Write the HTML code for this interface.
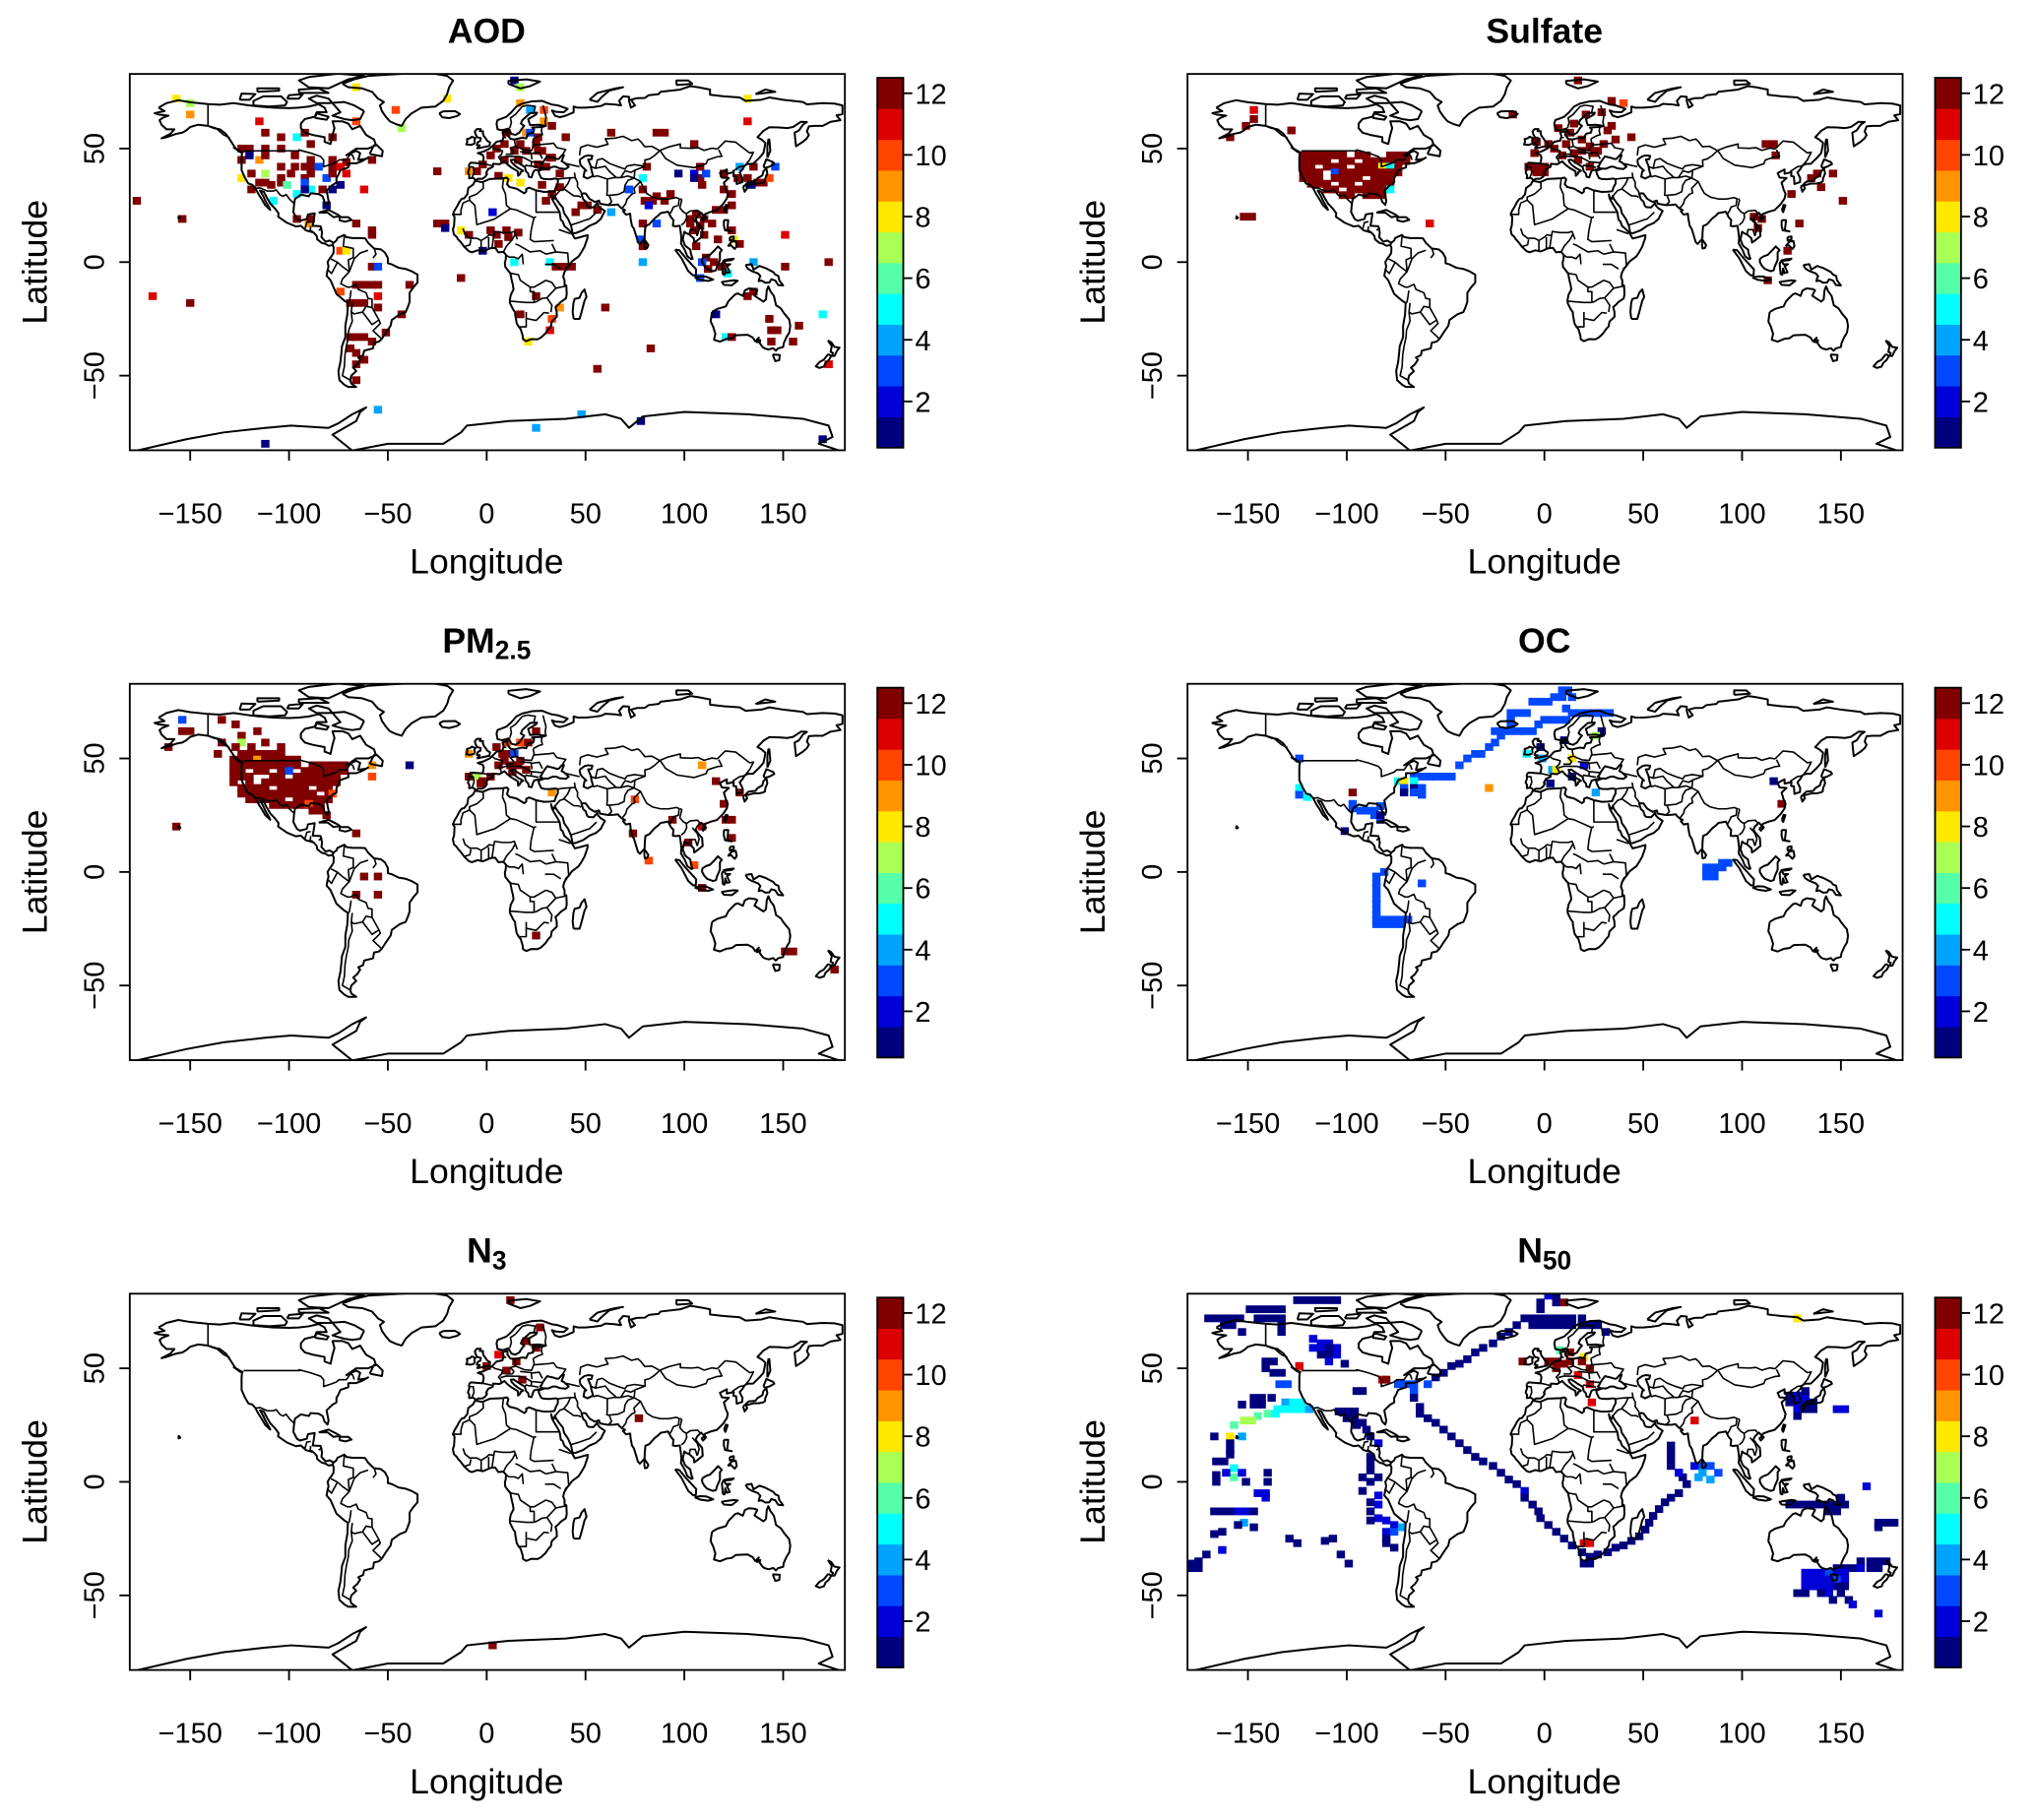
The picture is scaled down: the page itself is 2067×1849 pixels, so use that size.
<!DOCTYPE html>
<html><head><meta charset="utf-8"><title>Maps</title>
<style>
html,body{margin:0;padding:0;background:#fff;}
svg{display:block;}
text{font-family:"Liberation Sans",Arial,sans-serif;fill:#000;}
</style></head>
<body>
<svg id="fig" width="2067" height="1849" viewBox="0 0 1568 1402.6" preserveAspectRatio="none" xmlns="http://www.w3.org/2000/svg">
<defs><g id="world"></g></defs>
</svg>
<script>
// ---------- DATA ----------
const palette = ['#00007F','#0000D8','#0048FF','#00A4FF','#00FFFF','#55FFAA','#AAFF55','#FFE800','#FF9400','#FF4400','#DD0000','#800000'];
const colorTicks = [2,4,6,8,10,12];
const lonTicks = [-150,-100,-50,0,50,100,150];
const latTicks = [-50,0,50];

const aodCells = [[-157,72,8],[-150,70,7],[-150,65,9],[-115,62,11],[-112,57,12],[-104,55,12],[-96,55,5],[-92,57,12],[-89,52,12],[-78,55,12],[-66,62,10],[-66,77,8],[-46,67,10],[-43,59,7],[-20,72,8],
[-124,50,12],[-120,50,12],[-112,50,12],[-104,50,12],[-97,47,12],[-89,45,12],[-78,45,12],[-71,44,12],[-58,45,12],[-124,45,12],[-120,47,1],[-115,45,9],[-112,47,12],[-124,37,8],[-119,39,12],[-112,39,7],
[-104,42,12],[-97,42,12],[-92,42,12],[-89,42,12],[-85,42,3],[-78,42,12],[-74,42,11],
[-104,37,12],[-99,39,12],[-92,37,12],[-89,39,12],[-81,37,3],[-78,39,12],[-71,39,11],
[-115,35,12],[-112,35,12],[-109,34,12],[-104,35,12],[-101,34,6],[-92,35,3],[-89,32,5],[-96,30,5],[-92,32,1],[-83,32,12],[-78,32,1],[-74,34,1],[-108,27,5],[-119,32,12],[-81,25,1],[-62,32,11],[-177,27,12],[-154,19,12],
[-96,19,12],[-90,17,9],[-89,19,12],[-66,17,12],[-58,14,12],[-58,12,12],[-74,5,10],[-71,5,8],[-58,-2,12],[-55,-2,3],
[-66,-10,12],[-62,-10,12],[-58,-10,12],[-55,-10,12],[-39,-10,12],[-74,-13,10],[-55,-15,11],[-69,-18,12],[-66,-18,12],[-62,-18,12],[-55,-20,12],[-43,-23,12],[-51,-31,12],[-69,-33,12],[-66,-33,12],[-62,-33,12],[-58,-35,12],[-69,-38,12],[-66,-40,12],[-62,-43,12],[-66,-45,12],[-66,-52,12],[-169,-15,11],[-150,-18,12],
[-25,17,12],[-21,17,12],[-21,15,1],[-25,40,12],[-13,14,8],[-9,12,12],[2,14,12],[5,12,12],[10,14,12],[6,8,12],[11,11,12],[16,13,12],[-2,5,1],[3,22,2],[14,0,5],[32,0,5],[35,-2,12],[39,-2,12],[43,-2,12],[-13,-7,12],[25,-15,12],[17,-23,12],[37,-20,9],[33,-25,10],[32,-30,11],[21,-35,8],[60,-20,12],[56,-47,12],[83,-38,12],
[-5,40,12],[-9,40,9],[-2,43,12],[2,47,12],[5,50,12],[9,52,12],[10,57,12],[14,49,12],[17,52,12],[20,49,12],[25,52,12],[26,49,12],[28,49,12],[32,46,12],[33,46,12],[40,55,12],[9,45,12],[16,45,12],[26,43,12],[30,42,12],[37,39,12],[6,38,12],[11,37,8],[17,35,8],[28,34,12],[33,30,12],[30,27,12],[37,33,12],[48,25,12],[51,25,12],[56,23,12],[45,22,12],[63,57,12],[86,57,12],[90,57,12],[105,52,12],[132,62,11],[17,70,9],[29,67,10],[22,67,4],[29,62,9],[14,80,1],[17,77,7],[33,60,12],[20,57,9],[22,57,3],[26,55,12],[132,72,8],
[72,32,3],[79,37,5],[81,42,12],[79,32,12],[80,27,12],[84,27,12],[86,29,12],[82,25,2],[93,30,12],[90,27,12],[97,39,1],[105,39,2],[108,37,12],[111,39,3],[105,37,1],[109,34,12],[120,39,12],[108,42,12],[128,42,4],[135,42,12],[146,42,3],[127,37,12],[132,37,12],[137,35,12],[140,35,12],[134,34,1],[143,37,10],[120,32,12],[124,30,12],[116,23,12],[120,23,12],[124,25,12],[103,19,12],[106,21,12],[110,19,12],[103,17,12],[108,16,12],[114,17,12],[105,14,12],[110,12,12],[117,10,12],[124,14,12],[125,10,8],[128,8,12],[106,7,12],[111,2,12],[115,0,12],[109,0,3],[112,-3,12],[119,-2,12],[108,-7,3],[122,-5,5],[135,0,4],[151,12,11],[151,-2,12],[173,0,12],[79,17,12],[86,17,3],[78,10,3],[79,7,12],[79,0,4],[63,22,4],
[132,-15,12],[135,-13,12],[116,-23,1],[143,-25,12],[144,-30,12],[147,-30,12],[158,-28,12],[121,-33,5],[124,-33,12],[144,-35,12],[155,-35,12],[170,-23,5],[173,-45,11],
[-55,-65,4],[48,-67,4],[25,-73,4],[78,-70,1],[-112,-80,1],[170,-78,1]];

const sulfateCells = [
[-122,47,12],[-118,47,12],[-114,47,12],[-110,47,12],[-106,47,12],[-102,47,12],[-94,47,12],[-90,47,12],[-78,47,12],[-74,47,12],[-70,47,12],
[-122,44.5,12],[-118,44.5,12],[-114,44.5,12],[-110,44.5,12],[-102,44.5,12],[-98,44.5,12],[-90,44.5,12],[-86,44.5,12],[-82,44.5,12],[-78,44.5,12],[-74,44.5,12],[-70,44.5,12],
[-122,42,12],[-118,42,12],[-110,42,12],[-106,42,12],[-102,42,12],[-94,42,12],[-90,42,12],[-86,42,12],[-74,42,12],[-82,42,8],[-78,42,5],
[-122,39.5,12],[-118,39.5,12],[-114,39.5,12],[-106,39.5,3],[-102,39.5,12],[-98,39.5,12],[-94,39.5,12],[-90,39.5,12],[-86,39.5,12],[-82,39.5,12],[-78,39.5,12],[-74,39.5,12],
[-122,37,12],[-118,37,12],[-114,37,12],[-106,37,12],[-102,37,12],[-98,37,12],[-94,37,12],[-86,37,12],[-82,37,12],[-78,37,12],
[-118,34.5,12],[-114,34.5,12],[-110,34.5,12],[-102,34.5,12],[-98,34.5,12],[-90,34.5,12],[-86,34.5,12],[-82,34.5,12],[-78,34.5,12],
[-110,32,12],[-106,32,12],[-98,32,12],[-94,32,12],[-90,32,12],[-86,32,12],[-82,32,12],[-78,32,5],
[-102,29.5,12],[-98,29.5,12],[-90,29.5,12],[-86,29.5,12],[-82,29.5,12],
[-147,67,11],[-147,63,12],[-151,60,12],[-159,55,12],[-128,58,12],[-152,20,12],[-148,20,12],[-58,17,11],[-16,65,12],[17,80,12],[-4,53,12],[-8,42,12],[-4,42,12],[0,42,12],[-4,39.5,12],[0,39.5,12],
[15,61,12],[13,57,12],[19,54,12],[23,51,12],[27,49,12],[32,58,12],[34,60,12],[36,54,12],[30,52,12],[25,48,12],[17,45,12],[44,55,12],[11,52,12],[15,48,12],[23,42,12],[40,70,10],[34,71,12],[29,66,12],[21,65,12],[7,59,12],[2,52,12],[-5,48,12],[5,50,12],[9,47,12],[19,49,12],
[112,52,12],[116,52,12],[117,47,12],[125,30,12],[135,37,12],[140,33,12],[146,39,12],[138,39,12],[151,27,12],[106,20,12],[110,19,12],[108,15,12],[113,-8,12],[129,17,12],[123,5,12]];

const pm25Cells = [
[-154,67,3],[-154,62,12],[-150,62,12],[-161,55,12],[-134,67,12],[-127,65,12],[-116,62,12],[-124,60,12],[-124,57,7],[-112,57,12],[-134,57,12],[-127,55,12],[-119,55,12],[-104,55,12],[-136,52,12],
[-124,52,12],[-120,52,12],[-116,52,12],[-112,52,12],[-108,52,12],[-104,52,12],
[-128,49.5,12],[-124,49.5,12],[-120,49.5,12],[-116,49.5,9],[-112,49.5,12],[-108,49.5,12],[-104,49.5,12],[-100,49.5,12],[-96,49.5,12],
[-128,47,12],[-124,47,12],[-120,47,12],[-116,47,12],[-112,47,12],[-108,47,12],[-104,47,12],[-100,47,12],[-96,47,12],[-88,47,12],[-84,47,12],[-80,47,12],[-76,47,12],[-72,47,12],[-58,47,9],
[-128,44.5,12],[-124,44.5,12],[-116,44.5,12],[-112,44.5,12],[-104,44.5,12],[-100,44.5,3],[-92,44.5,12],[-88,44.5,12],[-84,44.5,12],[-80,44.5,12],[-76,44.5,12],[-72,44.5,12],
[-128,42,12],[-124,42,12],[-120,42,12],[-108,42,12],[-104,42,12],[-96,42,12],[-92,42,12],[-88,42,12],[-84,42,12],[-80,42,12],[-76,42,12],[-58,42,10],
[-128,39.5,12],[-120,39.5,12],[-112,39.5,12],[-108,39.5,12],[-104,39.5,12],[-100,39.5,12],[-96,39.5,12],[-92,39.5,12],[-88,39.5,12],[-84,39.5,12],[-80,39.5,12],[-76,39.5,12],
[-124,37,12],[-120,37,12],[-116,37,12],[-112,37,12],[-104,37,12],[-100,37,12],[-96,37,12],[-92,37,12],[-84,37,12],[-80,37,12],
[-124,34.5,12],[-120,34.5,12],[-116,34.5,12],[-112,34.5,12],[-108,34.5,12],[-104,34.5,12],[-100,34.5,12],[-96,34.5,12],[-92,34.5,12],[-88,34.5,12],[-80,34.5,12],[-78,34.5,10],
[-120,32,12],[-116,32,12],[-112,32,12],[-108,32,12],[-104,32,12],[-96,32,12],[-92,32,12],[-88,32,12],[-84,32,12],[-80,32,12],
[-108,29.5,12],[-104,29.5,12],[-100,29.5,12],[-96,29.5,12],[-92,29.5,12],[-88,29.5,12],[-84,29.5,12],[-90,30,10],
[-88,27,12],[-84,27,12],[-81,25,12],[-39,47,1],[-157,20,12],[-66,17,12],
[-62,-2,12],[-55,-2,12],[-66,-10,12],[-55,-10,12],
[-9,52,9],[-9,42,12],[-5,42,7],[-2,40,12],[2,42,12],[-3,39,12],[10,57,10],[17,57,10],[21,57,12],[25,62,12],[5,55,12],[8,52,12],[12,52,12],[14,52,3],[9,49,12],[12,47,12],[16,47,12],[6,47,12],[13,44,12],[17,49,12],[20,45,12],
[33,35,9],[75,32,10],[74,17,12],[82,5,10],[109,47,9],[116,40,12],[128,35,12],[120,30,12],[121,23,12],[124,23,12],[109,20,11],[94,23,12],[102,13,12],[124,15,12],[105,3,10],[109,-7,12],[25,-28,12],[151,-35,12],[155,-35,12],[176,-43,12]];

const ocCells = [
[-66,42,3],[-62,42,3],[-58,42,3],[-55,42,3],[-51,42,3],[-47,42,3],[-43,47,3],[-39,50,3],[-35,52,3],[-32,52,3],[-28,55,3],[-25,57,3],[-22,60,3],
[-25,62,3],[-21,62,3],[-17,62,3],[-13,62,3],[-10,62,3],[-6,62,3],[-17,65,3],[-17,67,3],[-17,70,3],[-13,70,3],[-9,70,3],
[-6,75,3],[-2,75,3],[2,75,3],[5,77,3],[9,77,3],[12,80,3],[9,80,3],[14,77,3],
[11,72,3],[14,70,3],[18,70,3],[21,70,3],[25,70,3],[29,70,3],[33,70,3],[4,67,3],[0,67,3],[-3,65,3],[8,67,3],[11,67,3],[29,62,1],[26,60,7],
[-74,40,5],[-71,40,8],[-66,40,5],[-71,37,3],[-66,37,1],[-62,37,3],[-66,35,3],[-62,34,3],[-71,35,1],
[-97,30,3],[-97,28,3],[-93,27,3],[-90,27,3],[-86,27,3],[-86,25,3],[-83,23,3],[-83,25,1],[-83,29,3],[-101,18,1],
[-124,50,3],[-124,37,5],[-124,34,3],[-120,33,5],[-97,35,12],
[-81,0,3],[-85,-2,3],[-85,-5,3],[-85,-7,3],[-85,-10,3],[-85,-12,3],[-85,-14,3],[-85,-17,3],[-85,-19,3],[-85,-21,3],[-81,-21,3],[-77,-21,3],[-73,-21,3],[-69,-21,3],[-85,-23,3],[-81,-23,3],[-77,-23,3],[-73,-23,3],[-62,-5,3],
[-9,52,5],[-2,55,1],[-1,50,4],[4,45,4],[6,45,8],[14,50,8],[14,42,1],[3,39,1],[26,35,4],[-28,37,9],[20,47,2],[10,58,1],
[116,40,1],[120,30,12],
[82,2,3],[86,2,3],[82,0,3],[86,0,3],[90,4,3],[93,4,3],[82,-2,3],[86,-2,3],[90,2,3]];

const n3Cells = [[12,80,12],[20,62,12],[25,59,12],[15,53,12],[10,49,12],[6,56,11],[27,68,12],[77,28,12],[3,-72,12],[0,51,12],[18,45,12]];

const n50Cells = [
[-125,80,1],[-121,80,1],[-117,80,1],[-113,80,1],[-109,80,1],[-105,80,1],
[-149,76,1],[-145,76,1],[-141,76,1],[-137,76,1],[-133,76,1],
[-170,72,1],[-166,72,1],[-162,72,1],[-158,72,1],[-154,72,1],[-145,72,1],[-141,72,1],[-137,72,1],[-133,72,1],
[-162,69,1],[-158,69,1],[-133,69,1],[-153,66,1],[-133,66,1],
[-117,63,2],[-113,61,2],[-109,61,2],[-117,59,2],[-113,59,2],[-109,59,1],[-105,59,2],[-113,56,1],[-109,56,1],[-105,56,2],[-109,53,2],
[-101,52,1],[-141,53,1],[-137,53,1],[-141,50,1],[-137,48,1],[-133,48,1],
[-82,45,11],[-124,51,11],[-134,43,3],[-130,43,3],[-95,40,1],[-92,40,1],
[-147,37,1],[-143,37,1],[-138,37,1],[-153,34,1],[-147,34,1],[-143,34,1],[-131,35,4],[-127,35,5],[-123,35,5],[-131,32,5],[-127,32,5],[-123,32,5],[-119,32,4],[-135,32,5],[-140,30,6],[-136,30,5],[-145,29,6],[-152,27,7],[-148,27,7],[-157,25,6],[-159,20,8],[-167,20,1],[-153,20,4],
[-159,17,1],[-159,14,1],[-159,12,1],[-162,9,1],[-166,9,1],[-166,3,1],[-166,0,1],[-157,6,5],[-157,2,6],[-161,4,2],[-153,4,2],[-151,0,1],[-140,4,1],[-140,0,1],[-145,-5,2],[-141,-5,2],[-141,-7,2],
[-167,-13,1],[-163,-13,1],[-159,-13,1],[-155,-13,2],[-151,-13,2],[-147,-13,1],[-152,-18,4],[-155,-19,1],[-147,-20,1],[-167,-23,1],[-163,-22,1],[-163,-30,2],[-171,-32,1],[-175,-35,1],[-179,-36,1],[-179,-38,1],[-175,-38,1],
[-129,-25,1],[-125,-27,1],[-111,-26,1],[-107,-25,1],[-103,-32,1],[-99,-36,1],
[-88,11,1],[-88,8,1],[-88,5,1],[-92,2,1],[-84,2,1],[-88,0,1],[-92,-4,1],[-84,-6,2],[-88,-9,1],[-84,-10,2],[-88,-13,1],[-84,-16,2],[-88,-17,1],[-80,-17,2],[-76,-19,2],[-80,-22,2],[-76,-22,3],[-72,-20,4],[-80,-25,1],[-80,-27,1],[-76,-29,1],
[-104,31,1],[-100,31,1],[-96,31,1],[-100,28,1],[-96,28,1],[-92,26,1],[-90,23,1],[-88,20,1],[-84,17,2],[-95,25,1],
[-74,43,3],[-70,43,3],[-66,43,3],[-66,40,3],[-66,37,1],[-63,33,1],[-63,30,1],[-59,28,1],[-55,26,1],[-51,23,1],[-47,20,1],[-43,17,1],[-39,14,1],[-35,11,1],[-31,9,1],[-26,7,1],[-22,4,1],[-18,1,1],[-14,-1,1],[-10,-4,2],[-10,-7,1],[-6,-10,1],[-3,-13,1],[-2,-16,1],[2,-19,1],[6,-22,1],[10,-25,1],[14,-28,1],[19,-31,1],[23,-33,1],[20,-36,1],[23,-36,1],[27,-32,1],[32,-31,1],[36,-29,1],[40,-28,1],[44,-26,1],[48,-24,1],[51,-21,1],[53,-18,1],[55,-15,1],[58,-12,1],[61,-9,1],[64,-7,1],[68,-5,1],[72,-1,1],[70,2,1],[68,4,1],[64,7,1],[64,10,1],[64,13,1],[64,16,1],[68,4,2],[76,7,2],[80,7,3],[84,7,3],[88,4,3],[80,4,4],[84,1,4],[78,2,4],[20,-27,11],[23,-27,11],[76,27,11],
[-59,43,3],[-55,46,1],[-51,48,1],[-47,51,1],[-43,52,1],[-39,54,1],[-35,57,1],[-31,59,1],[-26,61,1],[-22,64,1],[-18,66,1],[-14,69,1],[-10,72,1],[-6,72,1],[-2,72,1],[2,72,1],[6,72,1],[10,72,1],[14,72,1],[19,72,1],[2,85,1],[6,85,1],[2,82,2],[6,82,1],[-2,79,1],[6,79,1],[-2,76,1],[19,69,1],[23,69,1],[27,69,1],[31,66,1],[-6,69,1],[-2,69,1],[2,69,1],[6,69,1],[10,69,1],[14,69,1],[10,79,12],
[8,58,6],[20,55,8],[13,57,12],[13,53,12],[10,52,12],[6,50,12],[-11,53,12],[2,53,12],[6,53,12],[23,50,12],[23,43,11],[24,35,11],[19,53,12],[17,47,11],[-63,83,12],[-80,45,12],
[124,38,1],[128,38,2],[132,38,2],[124,35,1],[128,35,2],[132,35,2],[136,35,1],[128,32,2],[132,32,1],[136,32,1],[132,40,1],[128,29,1],[148,32,2],[152,32,2],[163,-2,2],[128,72,8],
[124,-10,1],[128,-10,1],[132,-10,1],[136,-10,1],[140,-10,1],[144,-10,1],[148,-10,1],[152,-10,1],[144,-13,1],[148,-13,1],[150,-7,1],[169,-18,1],[173,-18,1],[177,-18,1],[169,-20,1],
[160,-35,1],[165,-35,1],[169,-35,1],[173,-35,1],[148,-38,1],[152,-38,1],[156,-38,1],[160,-38,2],[165,-38,1],[169,-38,1],[132,-40,2],[136,-40,2],[140,-40,2],[144,-40,3],[148,-40,2],[152,-40,2],[132,-43,2],[136,-43,2],[140,-43,2],[144,-43,2],[148,-43,3],[152,-43,2],[132,-46,2],[136,-46,2],[140,-46,2],[144,-46,2],[148,-46,1],[152,-46,1],[128,-49,1],[132,-49,1],[140,-49,1],[144,-49,2],[150,-49,1],[146,-52,1],[154,-52,1],[156,-54,2],[169,-58,2]];

// ---------- MAP GEOMETRY (lon, lat) ----------
const COAST = [
[[-166,68],[-162,70],[-156,71.3],[-150,70.4],[-141,69.6],[-135,69.3],[-128,70],[-120,69],[-115,68.5],[-108,68],[-100,67.8],[-95,68],[-90,68.5],[-85,69.5],[-82,68],[-81,66],[-86,66],[-87,64],[-92,63],[-94,61],[-94,59],[-92,57],[-88,56],[-82,55],[-82,53],[-79,52],[-78,56],[-77,59],[-78,62],[-73,62],[-70,61],[-68,58.5],[-64,60],[-61,56],[-57,54],[-56,51.5],[-60,50],[-66,50],[-71,47],[-66,49],[-64,48],[-65,45],[-61,45.5],[-60,46],[-63,44.5],[-66,43.5],[-70,43.5],[-70,41.7],[-74,40.5],[-75,38.5],[-76,37],[-76,35],[-78,34],[-81,31.5],[-80,27],[-80.5,25.2],[-82,26.5],[-83,29],[-85,30],[-89,30.3],[-90,29],[-94,29.7],[-97,27.8],[-97.5,25],[-97.8,22],[-96,19],[-94.5,18.2],[-91,19],[-90.4,21],[-87,21.5],[-87.5,18.5],[-88,16],[-84,15.8],[-83.3,13],[-83.6,11],[-81.5,9],[-79.5,9.5],[-77.5,8.5],[-78,7.5],[-80,7.2],[-81.5,8],[-83.5,8.5],[-85.7,10],[-86,11.5],[-87.5,13],[-91.5,14],[-94,16],[-96.5,15.7],[-101,17.3],[-105.5,20],[-105.3,21.5],[-107,23.5],[-109.5,25.8],[-111,28],[-112.8,31],[-114.7,31.5],[-113,29],[-112,27],[-110,24],[-109.5,23],[-112,25],[-114,28],[-115.5,30],[-117,32.5],[-118.5,34],[-120.6,34.6],[-122.5,37.5],[-124,40.5],[-124,46],[-123.8,48],[-125,48.8],[-127,50],[-130,54],[-132,56.5],[-135,58.5],[-138,59],[-141,60],[-146,60.5],[-150,59.5],[-152,58],[-154,57],[-157,56.5],[-162,55],[-164.5,54.5],[-160,56.5],[-158,58.5],[-162,58.5],[-164.5,60.5],[-165.5,62.5],[-164,63.5],[-161,64.5],[-166,65],[-168,65.6],[-163,66.5],[-166,68]],
[[-73,78.5],[-67,80.5],[-60,82],[-45,82.8],[-30,83.5],[-20,82],[-17,80],[-19,77],[-20,74],[-22,71],[-26,68.5],[-33,68],[-38,65.5],[-41,63],[-43,60],[-46,60.8],[-49,62],[-51,64],[-53,66.5],[-54,69],[-52,70.5],[-55,72],[-58,75],[-63,76.5],[-70,77],[-73,78.5]],
[[-62,66.5],[-64,63],[-68,62.5],[-72,63],[-78,64.5],[-74,66],[-78,70],[-80,72],[-86,73.3],[-90,72],[-86,70],[-80,70],[-72,70.5],[-67,69],[-62,66.5]],
[[-118,69],[-110,68.5],[-102,69],[-101,70.5],[-104,73],[-113,73],[-118,71],[-118,69]],
[[-90,77],[-80,76.5],[-75,78.5],[-70,80.5],[-62,82],[-75,83],[-90,81.5],[-95,80],[-90,77]],
[[-125,71.5],[-120,71.5],[-117,74],[-124,74.2],[-125,71.5]],
[[-95,74.5],[-80,74.5],[-85,76.5],[-95,76],[-95,74.5]],
[[-116,75],[-105,75.5],[-105,76.5],[-116,76.5],[-116,75]],
[[-101,72],[-95,72],[-93,74],[-100,73.5],[-101,72]],
[[-87,63.5],[-81,62.7],[-80,64],[-86,65.5],[-87,63.5]],
[[-59,47.6],[-53,46.6],[-52.6,49],[-55.5,51.5],[-57,51.5],[-59,48],[-59,47.6]],
[[-128.3,50.7],[-123.5,48.3],[-125,48.6],[-128.3,50.7]],
[[-85,21.8],[-80,23],[-75.5,21],[-74.2,20.2],[-77.5,19.8],[-80.5,21.8],[-85,21.8]],
[[-74.4,19.8],[-70,19.8],[-68.4,18.6],[-71.5,17.8],[-74.4,18.4],[-74.4,19.8]],
[[-156,19],[-155,19.5],[-155.8,20.2],[-156,19]],
[[-24,65.5],[-22,66.4],[-16,66.5],[-13.5,65.2],[-15,64.3],[-19,63.4],[-22.5,63.8],[-24,65.5]],
[[-77.5,8.5],[-76,9.5],[-75.5,10.6],[-72,12],[-71,11],[-68,10.6],[-64,10.6],[-61.5,10.5],[-60,8.5],[-57,6],[-53.5,5.6],[-51.5,4.2],[-50,1.8],[-50,-0.5],[-48,-1],[-44.5,-2.5],[-41,-3],[-38,-4],[-35,-5.5],[-35,-9],[-37,-11],[-39,-13.5],[-39,-17.5],[-40,-20],[-41,-22],[-44,-23],[-48,-25.5],[-48.6,-28],[-51,-31],[-53,-33.7],[-54.5,-35],[-57,-35.5],[-57.5,-38],[-62,-39],[-62.5,-41],[-65,-42],[-64,-43],[-65.5,-45],[-67.5,-46.5],[-66,-48],[-68.5,-50],[-69,-52],[-68.5,-53.5],[-66,-55],[-70,-55],[-72,-54],[-74.5,-52],[-75,-48],[-74,-44],[-73.5,-40],[-73.2,-37],[-71.5,-33],[-71.5,-28],[-70.5,-23],[-70.2,-18],[-72,-17],[-76,-14],[-77,-12],[-79,-8],[-81,-6],[-80.5,-3.5],[-80,-2],[-80.5,0],[-79.5,1.5],[-78.6,2.5],[-77.5,4],[-77.4,6.5],[-78,7.5],[-77.5,8.5]],
[[-9,43],[-8,43.8],[-2,43.4],[-1.5,46],[-2,47.2],[-4.5,48],[-1.6,48.7],[1.5,50],[3,51.2],[5,53],[8,53.5],[8.6,55.5],[8,57],[10.5,57.7],[10.5,56],[12,54.3],[14,54],[18,54.8],[20,54.5],[21,56.5],[23.5,57],[24,58.5],[23,59.3],[28,59.5],[30,60],[26,60.5],[22,60.3],[21.5,61.5],[21,63],[25,65],[25.5,65.8],[22,65.6],[18,62.5],[17.3,61],[19,60],[18,59],[16.5,57],[14.5,56],[12.5,56.5],[11,58.8],[8,58],[5.5,58.5],[5,61],[5.5,62.5],[10,64],[12.5,66],[15,68.5],[18,69.8],[23,70.8],[28,71],[31,70],[33,69.4],[36,69],[41,67.5],[39,66],[35,66.2],[33,66.8],[34.5,64.5],[37,63.8],[40,64.5],[44,66],[44,68.5],[46,68],[50,68],[54,68.3],[58,68.8],[60,69.7],[65,69.4],[68,69],[67,71],[69,73],[72,72.8],[72,71],[73,68],[75,69],[73,71.5],[76,72.2],[80,72.3],[82,73.5],[87,74],[88,75],[98,76],[103,77.5],[107,77],[113,76],[113,73.7],[120,73],[128,72.5],[131,71],[139,71.5],[143,72.5],[150,71.5],[160,70.5],[162,69.5],[170,70],[176,69.8],[180,69],[180,65.2],[177,64.6],[179,62.5],[174,61.8],[170,60],[166,60],[163,59.8],[162,57.5],[163,56],[162,54.5],[160,53],[156.5,51],[156,55],[155.8,57],[158,58],[160,60.5],[162,61.7],[159,61.8],[155,59.5],[152,59],[148,59.3],[143,59.4],[140,57.8],[137,55],[139,54],[141,52.5],[140.5,50],[140,48],[138,46],[134.8,43.3],[132,43.2],[130.5,42.5],[129.5,41],[128,39.5],[129.4,37],[129.3,35.2],[126.5,34.4],[126.3,36.8],[126.2,37.7],[124.8,37.9],[125,39.6],[121.5,38.9],[121.5,40.8],[118,39.2],[119,37.2],[122.5,37],[120,35],[121,32],[122,30],[121.5,28],[119.5,25.5],[116.5,22.9],[113.5,22.2],[110.5,21.2],[110,20.3],[108.5,21.7],[106.5,20],[105.7,18.6],[107,17],[109,15],[109.3,11.5],[106.5,9.5],[105,8.6],[104.8,10.4],[102.5,12.2],[101,12.7],[100,13.4],[99.2,10],[100.2,7.6],[101,6.8],[103,5.5],[103.4,3.5],[104.2,1.5],[103.5,1.3],[101.5,2.6],[100.3,5.2],[98.3,8.2],[98.5,10.6],[98.2,13],[97.7,16],[95.5,15.8],[94.2,16],[94.5,18.5],[93.2,19.8],[91.8,22.2],[90,21.9],[88,21.6],[86.8,20.5],[85,19.3],[82.2,16.6],[80.3,15.9],[80,13],[79.9,10.3],[77.5,8],[76.5,8.9],[75.7,11.3],[74.5,14.7],[73.5,16],[72.8,19.2],[72.6,21.3],[70.5,20.9],[69,22.4],[70,22.9],[68.4,23.6],[67,24.7],[66.4,25.4],[64.5,25.2],[61.5,25.1],[57.4,25.7],[56.8,27.1],[54.7,26.5],[52,27.9],[50.1,30.2],[48.9,30.3],[48,29.9],[48.8,27.7],[50.1,26.7],[50.8,24.8],[51.6,24.2],[54,24.1],[56,26],[56.4,24.9],[57.4,23.9],[59.8,22.5],[58.5,20.4],[57.8,19.1],[55.3,17.2],[52,16],[48.7,14],[45,12.8],[43.5,12.6],[42.7,16],[41.2,19],[39.2,21.5],[38.5,24],[36.6,26],[35,28],[34.6,29.2],[34,27.8],[33.1,28.4],[32.6,29.8],[33,28],[33.9,26.5],[35.7,23.9],[36.9,22],[37.5,18.6],[38.4,18],[39.3,15.9],[41.2,14.5],[43.1,12.7],[44.6,10.4],[46.6,10.8],[51.1,11.9],[51,10.6],[49.5,6.8],[48,4.5],[46.5,2.5],[43.1,0.3],[41.5,-1.7],[40.2,-2.8],[39.2,-4.7],[38.7,-6.5],[39.4,-8],[39.4,-10],[40.3,-10.3],[40.5,-14.2],[40.1,-16],[37.4,-17.6],[36.3,-18.7],[34.8,-19.8],[35.4,-21.8],[35.5,-24],[32.9,-26.2],[32.5,-28.3],[31.3,-29.4],[29.7,-31.4],[27.5,-33.2],[25.7,-34],[22.6,-33.9],[20,-34.8],[18.4,-34],[18.2,-32.4],[17.2,-29.5],[16.3,-28.6],[15.2,-27],[14.4,-23],[14.4,-22.1],[13.4,-20.9],[11.8,-18.1],[11.7,-16.7],[12.2,-14.4],[13.6,-12],[13.2,-9.8],[12.9,-8.9],[12.2,-6],[12,-5],[11,-3.9],[9.4,-2.1],[9.2,-0.2],[9.6,1],[9.8,3.1],[8.5,4.5],[7,4.4],[5.9,4.3],[4.3,6.3],[1.9,6.1],[-1,5],[-2,4.7],[-4.6,5.2],[-7.5,4.3],[-9,4.8],[-11.4,6.8],[-13.2,8.9],[-14.6,10.2],[-15.1,11],[-16.6,12.2],[-17.1,14.4],[-16.5,16.1],[-16.3,19],[-16.3,20],[-17.1,21],[-16.3,22.7],[-15,24.5],[-13.9,26.4],[-12.6,27.9],[-11.4,28.1],[-9.8,29.9],[-9.3,32.6],[-6.9,34.1],[-5.9,35.8],[-2.2,35.2],[1.5,36.6],[8.4,36.9],[10.2,37.2],[11,36.5],[10.3,34.3],[11.5,33.1],[15.2,32.3],[19,30.3],[20,31],[20,32.2],[21.5,32.8],[25,31.6],[29,30.9],[32,31],[34.3,31.2],[35,33],[36,34.6],[36,36.5],[34.7,36.8],[32,36.5],[29,36.6],[27.6,37],[26.5,39],[26.2,40.2],[28.8,41],[27,42],[27.7,42.6],[28.5,44],[29.6,45.4],[30.7,46.6],[31.7,46.3],[33.3,46],[35.5,45.4],[36.5,45.5],[38,47],[39.1,47.1],[37.9,44.4],[39,44],[41.5,42],[40,41],[36.9,41.3],[35,42],[33.5,42],[31,41.1],[29.2,41.2],[26.4,40.8],[24,40.3],[23.4,39.2],[22.7,37.3],[21.3,37.6],[21,39],[19.9,40],[19.3,41.9],[16.3,43.5],[13.6,45.1],[12.2,45],[12.6,44],[14,42.7],[16,41.4],[18.5,40.2],[17,39.5],[17,38.9],[15.9,38],[15.7,40],[12.4,41.7],[10.5,43],[9,44.4],[6.5,43.1],[3.3,43.3],[3.1,41.9],[0.8,41],[-0.3,39.3],[0.2,38.8],[-0.7,37.6],[-2.1,36.7],[-4.4,36.7],[-5.4,36],[-6.5,36.9],[-7.4,37.1],[-8.9,36.9],[-8.8,38.3],[-9.5,39.4],[-8.8,41.2],[-9,43]],
[[47,45],[49.5,46.6],[51.3,47],[53.5,46.8],[53,45.3],[51.3,45.2],[52.6,42.5],[53,40.6],[53.8,38],[51,36.8],[49,37.6],[49.5,40],[50.4,40.3],[48.5,41.8],[47.4,43],[47,45]],
[[-5,50],[1.4,51.2],[1.7,52.7],[0.2,53.5],[-0.5,54.5],[-1.5,55.6],[-2,57],[-1.8,57.6],[-3.5,57.7],[-3,58.6],[-5,58.6],[-6,57.5],[-5.6,56.2],[-4.8,55],[-3,54.6],[-3.2,53.4],[-4.5,52.8],[-5,51.6],[-3.5,51.4],[-5,50]],
[[-6,52.2],[-6.2,53.9],[-5.7,54.6],[-7.5,55.2],[-8.5,54.5],[-10,54.2],[-9.8,53],[-10.3,51.8],[-8,51.6],[-6,52.2]],
[[11,78.5],[17,76.5],[22,77.5],[27,79.5],[20,80.5],[11,79.8],[11,78.5]],
[[52,71.5],[56,70.6],[58,72.5],[62,75.5],[69,77],[65,76.5],[56,74.5],[54,73],[52,71.5]],
[[96,78],[104,78.5],[102,80],[96,80],[96,78]],
[[136,74],[146,75],[141,76],[136,74]],
[[142,46],[143.5,49],[143,54],[142.5,54],[142,51],[142,46]],
[[130.8,34],[132.5,35.4],[136,35.7],[137,36.9],[139.5,38.2],[140,40],[141.5,41.3],[142,39],[141,37],[140.8,35.5],[139.8,35],[137.5,34.6],[135,34.6],[132,33.9],[130.8,34]],
[[129.7,33.3],[131,34],[131.8,32.5],[130.5,31],[129.7,33.3]],
[[140,42],[141.5,45.3],[145,44],[145.5,43.2],[143,42],[141,41.5],[140,42]],
[[120.1,23],[121,25.2],[121.9,25],[120.8,22],[120.1,23]],
[[108.6,19.2],[110.5,20.1],[111,19.6],[109.5,18.2],[108.6,19.2]],
[[120,18.5],[122.2,18.5],[122,16.5],[121.6,14],[124,13.5],[120.6,14],[120,16],[120,18.5]],
[[122,7],[124,9],[126,9.3],[126.5,7],[125.5,5.8],[123.5,7.5],[122,7]],
[[123,11],[125,11.3],[125,10],[123,9.5],[123,11]],
[[95.3,5.5],[97.5,5.2],[100.5,2],[104.5,-1.8],[106,-3.2],[105.8,-5.8],[104.5,-5.9],[102,-4],[100.5,-1.5],[98.6,1.7],[95.3,5.5]],
[[105.2,-6.8],[108,-6.3],[111,-6.4],[114.6,-7.7],[112,-8.3],[108,-7.8],[105.2,-6.8]],
[[109,1.5],[111,2.6],[113,3.2],[115.5,5.4],[117,6.9],[119,5.3],[118,4.3],[118,1],[117.5,0],[116.5,-2],[116,-3.6],[114.5,-4],[111.5,-3],[110.1,-1.7],[109,0],[109,1.5]],
[[119.5,-5.5],[120.4,-5.5],[120.7,-2.8],[121.5,-4.8],[123,-4.5],[121.6,-1.9],[123.2,-0.9],[121,-1],[120,0.5],[124,0.9],[125,1.5],[122,1.2],[120,0.8],[119,-0.6],[119.5,-5.5]],
[[131,-1.3],[134,-0.9],[135,-3.3],[138,-1.7],[141,-2.6],[145,-4.4],[146,-5.5],[147.6,-6.1],[148,-8],[150,-10.3],[147.5,-10.1],[146,-8.1],[144,-7.6],[143,-9],[141,-9.1],[139,-8.1],[137.6,-8.4],[138,-7],[138.5,-6.2],[137.3,-5],[134,-3.9],[132,-2.8],[131,-1.3]],
[[120,-8.6],[125,-8],[127,-8.2],[124,-10.2],[120,-10],[119,-8.8],[120,-8.6]],
[[79.7,8],[80,9.8],[81.8,7.5],[81.2,6.2],[80,6],[79.7,8]],
[[44,-25],[47,-25],[48,-22],[49.5,-17],[50.5,-15.3],[49.5,-12],[48,-13.5],[47,-15.7],[44.5,-16.2],[43.9,-18],[43.5,-22],[44,-25]],
[[114,-22],[116.7,-20.6],[121,-19.5],[122.3,-17.2],[125.7,-14.2],[127.1,-13.8],[129.6,-14.9],[130.6,-12.5],[132.6,-11.6],[135.8,-11.9],[136.9,-12.4],[135.5,-14.8],[140,-17.4],[141.3,-16.4],[141.7,-12.4],[142.5,-10.7],[143.5,-12.8],[145.3,-14.9],[146.4,-19],[148.8,-20.4],[150.5,-22.6],[153,-25.2],[153.6,-28.1],[153.1,-31],[151.7,-33],[150.3,-35.7],[150,-37.4],[147.4,-38],[146.3,-39],[144.9,-37.9],[142.7,-38.5],[140.6,-38],[139.6,-37.4],[138.1,-35.6],[138.4,-34.4],[137.7,-35],[136.8,-35.3],[137.7,-33.3],[135.9,-34.9],[134.6,-33.2],[132,-32],[126.1,-32.2],[124,-33.5],[121.3,-33.8],[118,-35],[115,-34.2],[115.7,-31.6],[114.6,-28.5],[113.3,-26.1],[113.8,-23],[114,-22]],
[[144.7,-40.7],[148.3,-40.9],[148,-43.2],[146,-43.6],[144.7,-40.7]],
[[172.6,-34.5],[174.3,-35.3],[175.9,-37.3],[178.5,-37.7],[177.2,-39.1],[176,-41.3],[174.7,-41.3],[175.2,-40],[174,-39.5],[174.6,-37],[172.6,-34.5]],
[[172.8,-40.5],[174.3,-41.3],[173.2,-43],[171.4,-44.4],[170.6,-46],[168.3,-46.6],[166.5,-45.9],[168.4,-44],[170.5,-43],[172.8,-40.5]],
[[-182,-84],[-152,-78],[-133,-75],[-112,-73],[-99,-72],[-80,-73],[-75,-71],[-68,-67],[-61,-64],[-64,-66],[-66,-70],[-78,-76],[-68,-83],[-50,-80],[-22,-80],[-13,-75],[-10,-72],[11,-70],[40,-69],[60,-67],[68,-69],[72,-73],[79,-68],[100,-66],[132,-67],[160,-69],[173,-72],[175,-77],[168,-80],[182,-84]]
];
const BORDERS = [
[[-123,49],[-95,49],[-95,49.4],[-89,48],[-84,46.5],[-82.5,45],[-82.5,42],[-79,43],[-76,44],[-74.7,45],[-71,45],[-69,47.5],[-67.8,47],[-67,45]],
[[-141,69.6],[-141,60],[-137,59],[-133,56],[-130,54.8]],
[[-117,32.5],[-114.7,32.7],[-111,31.3],[-108,31.3],[-106.5,31.8],[-104.5,29.6],[-103,29],[-101.5,29.8],[-99.5,27.5],[-97.5,25.9]],
[[-92,14.5],[-91,17.5],[-89,17.8]],[[-89,15.8],[-89.3,14],[-88,13.5]],[[-85,14],[-83.2,15]],
[[-72,11.8],[-72.5,7],[-67.5,6],[-67.5,2],[-70,1],[-69.5,-4.2],[-73,-2],[-75.5,-0.1],[-78.8,1.4]],
[[-60,5.2],[-64,4],[-67,1.5],[-69.5,-4.2],[-73,-7.5],[-73.8,-9.5],[-70.5,-11],[-69,-11],[-66,-9.8],[-65,-12],[-61,-13.5],[-60,-16],[-58,-16.3],[-58,-20],[-54.5,-25.5],[-53.8,-27],[-57.5,-30.2],[-53.5,-33.5]],
[[-70.3,-18.3],[-69.5,-17.5],[-69,-15],[-68.6,-12.5]],
[[-68,-18],[-68.5,-22],[-67,-22.8],[-62.8,-22],[-61,-19.5],[-58,-20]],
[[-68.5,-22],[-68,-26],[-69.8,-30],[-70,-33],[-71,-37],[-71.7,-41],[-72,-46],[-73,-50],[-69,-52]],
[[-62.8,-22],[-58,-27.5],[-54.5,-25.5]],[[-80.3,-3.4],[-78.5,-5],[-75.5,-0.1]],[[-56.9,6],[-56,3.5],[-57.5,1.8]],
[[-1.8,35],[-1.7,32.5],[-5,30],[-8.7,28.7],[-8.7,27.3],[-12,26],[-13,23],[-13,21],[-17,21]],
[[8.5,36.9],[8,33],[9.5,30],[10,25],[12,23.5]],[[25,31.6],[25,22],[36.9,22]],
[[12,23.5],[15,23],[24,19.5],[25,20]],[[24,20],[22.5,14],[22,10],[24,9],[34,9.5]],
[[-8.7,27.3],[-6,25],[-5,16.5],[4,19],[12,23.5]],
[[-12,14.8],[-11,12.2],[-8.5,10.5],[-5,10.5],[-2.8,9.5],[0,11],[1.2,12],[3.6,11.7],[4,13.5],[8,13],[12,13],[14,13.5],[15.5,10]],
[[8.5,4.5],[10,7],[13,10],[14.5,12.5]],[[14.5,8],[16,7.5],[22,4.5],[27,5],[30,3.5]],
[[11,-4],[12.5,-5],[16,-5.5],[17,-8],[22,-11],[24,-11],[30,-8]],
[[30,3.5],[35,4.5],[41,4],[41.5,-1.5],[39.2,-4.7]],[[33,8],[35,4.5]],[[36.5,14.3],[42.5,12.5]],
[[29.5,-1],[33.9,-1],[37.5,-3]],[[40.4,-10.5],[35,-11.5],[33,-9],[30,-8]],
[[11.7,-17.2],[20,-17.8],[23.5,-17.8],[25,-17.5]],[[25,-17.5],[28,-16],[30.5,-15.7]],
[[20,-22],[20,-24.8],[25,-25.7],[29,-22.2],[31.5,-22.5]],[[16.5,-28.5],[20,-28.5],[20,-24.8]],
[[32.5,-22],[33,-19],[30.5,-15.7],[35,-11.5]],
[[-11.4,6.8],[-8.5,7.6],[-8,10]],[[-2.8,5],[-2.8,9.5]],[[1,6],[1,11]],[[2.7,6.3],[3.6,11.7]],
[[22,-11],[22,-13],[24,-13],[24,-17.8]],[[9.8,3.1],[11.3,2.2],[14,2.2],[16,1.5],[18,3.5],[18.5,-1]],
[[-1.8,43.4],[3.2,42.4]],[[-8.8,42],[-6.8,41.9],[-6.4,39.5],[-7.4,37.2]],
[[2.5,51],[4.2,49.9],[6,49.5],[8,49],[7.6,47.6],[6,46.2],[7,45],[7.5,43.8]],
[[14,54],[14.6,51],[12,50.3],[13.8,48.6],[13,47.5],[9.6,47.5]],[[8.6,54.9],[9.9,54.8]],
[[7,45.9],[10,46.6],[13.7,46.5]],[[23.5,54.3],[24,52],[22.7,49.1],[19,49.4],[14.6,51]],
[[16.9,48.6],[22.5,48.1],[22.9,45.2]],
[[13.7,46.5],[16.5,46.5],[19,45.9],[21,45],[22.7,44.2],[22.5,42.3],[21,42.4],[20,42.7],[19.4,42]],
[[22.9,47.9],[26.6,48.3],[28.2,45.5]],[[22.7,44.2],[28.6,43.7]],[[22.5,42.3],[26.2,41.7]],
[[28,59.5],[27.7,57.8],[28.2,56.1],[26.5,55.7],[23.5,54.3]],
[[23.6,51.5],[31.7,52.1],[33.8,52.4],[35.5,50.4],[40,49.6],[38.2,47.1]],
[[30,60],[29.6,61.7],[30,64],[29.1,66.9],[28.5,69]],[[23.9,66],[24.6,68.6],[20.6,69.1]],
[[11.7,59],[12.5,61.5],[12,63.5],[14.5,65],[18,68.5],[20.6,69.1]],
[[36,36.5],[38,36.8],[42.4,37.1],[44.8,37.2],[44.4,39.4]],
[[44.8,37.2],[46,35],[45.9,33.2],[47.7,31],[48,29.9]],
[[34.9,29.4],[37,31.5],[39.2,32.2],[44,29.2],[46.6,29.1],[47.7,28.5]],
[[42.8,16.4],[46.5,17.4],[51,18.8],[52,19],[55.6,22]],[[42.4,37.1],[41,34.4],[39,32.2]],
[[40,43.4],[47,42]],
[[61,36.6],[61,31.4],[60.8,29.5],[62,29.4],[63.2,26.6],[61.5,25.1]],
[[53.8,37.5],[56,38],[61,36.6]],
[[61,36.6],[64.5,37.2],[67.8,37.2],[71.5,37.9],[74.6,37],[71.5,36],[70,33.9],[69.5,31],[66.5,29.8],[62,29.4]],
[[74.6,37],[77.8,35.5],[74.5,32.5],[75,30.5],[73.4,29.9],[71,27.7],[70.3,25.7],[68.4,23.6]],
[[77.8,35.5],[79.5,32.5],[81,30.2],[84,28.6],[88,27.8],[92,27.8],[96,28.4],[97.4,27.9],[97,25],[94.5,24.3],[93.5,22.4],[92.5,21]],
[[98,28],[98.7,27.3],[97.7,23.9],[99.5,22.1],[101,21.4],[101.2,19.5],[100.1,17.5],[98.5,16.3]],
[[101.2,21.4],[103,22.5],[106.7,22.8],[108,21.5]],[[104,19.5],[106.5,17],[107.5,14.5],[106.5,11.5]],
[[102.5,12.2],[103,14.3],[105.5,14.3],[106.5,11.5]],
[[87.7,49.2],[90.5,45.6],[96.3,42.7],[105,41.6],[111,43.3],[111.8,45],[116.7,46.4],[119,46.6],[117.4,49.5]],
[[87.7,49.2],[92,50.7],[98,52],[98,50.3],[103.7,50.1],[107,50.4],[110,49.2],[114,50.2],[116.7,49.8]],
[[116.7,49.8],[120.7,53.3],[126,52.8],[133,48.1],[135,48.4],[133,45],[131,42.9]],
[[124.3,39.9],[128,42],[130.6,42.4]],
[[87.7,49.2],[85,47],[82.5,45.5],[80,44.9],[80.2,42.2],[74.8,42.9],[71,42.3],[70,41],[66.5,42],[62,43.5],[58.5,45.6],[56,45],[55,41.3],[52.9,42]],
[[47,47],[47.5,50.5],[51,51.6],[55.7,50.6],[61.4,51.9],[60,54.3],[65,54.6],[69,55.4],[73.4,53.5],[76.5,54.2],[77.8,53.2],[80,50.8],[83.5,51],[87.3,49.2]],
[[55,41.3],[60,42.2],[62,40],[65.5,37.3]],[[67.8,37.2],[70,40.2],[73,39.5],[75,40.5],[80.2,42.2]],[[74.6,37],[75,40.5]]
];

// ---------- RENDER ----------
const NS = 'http://www.w3.org/2000/svg';
const svg = document.getElementById('fig');
function mk(tag, attrs, parent){ const e=document.createElementNS(NS,tag); for(const k in attrs) e.setAttribute(k,attrs[k]); (parent||svg).appendChild(e); return e; }
function pathD(lines){ return lines.map(l=>'M'+l.map(p=>p[0]+' '+(-p[1])).join('L')).join(''); }

const world = document.getElementById('world');
const coastPath = mk('path',{d:pathD(COAST),fill:'none',stroke:'#000','stroke-width':2.0,'vector-effect':'non-scaling-stroke','stroke-linejoin':'round'},world);


const borderPath = mk('path',{d:pathD(BORDERS),fill:'none',stroke:'#000','stroke-width':1.6,'vector-effect':'non-scaling-stroke','stroke-linejoin':'round'},world);



const KX = 1.523, KY = 1.75, CELLW = 4.2, CELLH = 3.4;
const panels = [
 {id:'aod', title:['AOD',''], cells:aodCells, col:0, row:0},
 {id:'sulfate', title:['Sulfate',''], cells:sulfateCells, col:1, row:0},
 {id:'pm25', title:['PM','2.5'], cells:pm25Cells, col:0, row:1},
 {id:'oc', title:['OC',''], cells:ocCells, col:1, row:1},
 {id:'n3', title:['N','3'], cells:n3Cells, col:0, row:2},
 {id:'n50', title:['N','50'], cells:n50Cells, col:1, row:2}
];

panels.forEach(p=>{
  const dx = p.col*815, dy = p.row*470;
  const ox = 375+dx, oy = 202+dy;
  const X = lon=>ox+lon*KX, Y = lat=>oy-lat*KY;
  const bx0=100+dx, bx1=651+dx, by0=57+dy, by1=347+dy;
  const g = mk('g',{});
  
  

  const cp = mk('clipPath',{id:'clip-'+p.id},g);
  mk('rect',{x:bx0,y:by0,width:bx1-bx0,height:by1-by0},cp);
  const plot = mk('g',{'clip-path':'url(#clip-'+p.id+')'},g);
  
  

  p.cells.forEach(c=>{
    const r = mk('rect',{x:X(c[0]-CELLW/2),y:Y(c[1]+CELLH/2),width:CELLW*KX,height:CELLH*KY,fill:palette[Math.max(1,Math.min(12,Math.round(c[2])))-1]},plot);
    
    
  });
  const u = mk('use',{href:'#world',transform:'translate('+ox+','+oy+') scale('+KX+','+KY+')'},plot);
  
  

  const box = mk('rect',{x:bx0,y:by0,width:bx1-bx0,height:by1-by0,fill:'none',stroke:'#000','stroke-width':1.4},g);
  
  

  const t = mk('text',{x:ox,y:33+dy,'text-anchor':'middle','font-size':27,'font-weight':'bold'},g);
  
  
  t.textContent = p.title[0];
  if(p.title[1]){ const s=mk('tspan',{'font-size':20,dy:5},t); s.textContent=p.title[1]; }

  lonTicks.forEach(v=>{
    const tl = mk('line',{x1:X(v),x2:X(v),y1:by1,y2:by1+8,stroke:'#000','stroke-width':1.4},g);
    
    
    const tx = mk('text',{x:X(v),y:by1+56,'text-anchor':'middle','font-size':22},g);
    
    
    tx.textContent = v<0 ? '\u2212'+Math.abs(v) : String(v);
  });
  const xt = mk('text',{x:ox,y:by1+95,'text-anchor':'middle','font-size':27},g);
  
  
  xt.textContent='Longitude';

  latTicks.forEach(v=>{
    const tl = mk('line',{x1:bx0-8,x2:bx0,y1:Y(v),y2:Y(v),stroke:'#000','stroke-width':1.4},g);
    
    
    const tx = mk('text',{x:0,y:0,'text-anchor':'middle','font-size':22,transform:'translate('+(bx0-20)+','+Y(v)+') rotate(-90)'},g);
    
    
    tx.textContent = v<0 ? '\u2212'+Math.abs(v) : String(v);
  });
  const yt = mk('text',{x:0,y:0,'text-anchor':'middle','font-size':27,transform:'translate('+(36+dx)+','+oy+') rotate(-90)'},g);
  
  
  yt.textContent='Latitude';

  const cx0=676+dx, cw=20, cyTop=60+dy, cyBot=345+dy;
  const cb = mk('g',{},g);
  
  
  const vy = v=>cyBot-(v-0.5)*(cyBot-cyTop)/12;
  palette.forEach((col,i)=>{
    const r = mk('rect',{x:cx0,y:vy(i+1.5),width:cw,height:vy(i+0.5)-vy(i+1.5)+0.3,fill:col},cb);
    
    
  });
  const cbf = mk('rect',{x:cx0,y:cyTop,width:cw,height:cyBot-cyTop,fill:'none',stroke:'#000','stroke-width':1.4},cb);
  
  
  colorTicks.forEach(v=>{
    const tl = mk('line',{x1:cx0+cw,x2:cx0+cw+7,y1:vy(v),y2:vy(v),stroke:'#000','stroke-width':1.4},cb);
    
    
    const tx = mk('text',{x:cx0+cw+9,y:vy(v)+8,'font-size':22},cb);
    
    
    tx.textContent=String(v);
  });
});
</script>
</body></html>
